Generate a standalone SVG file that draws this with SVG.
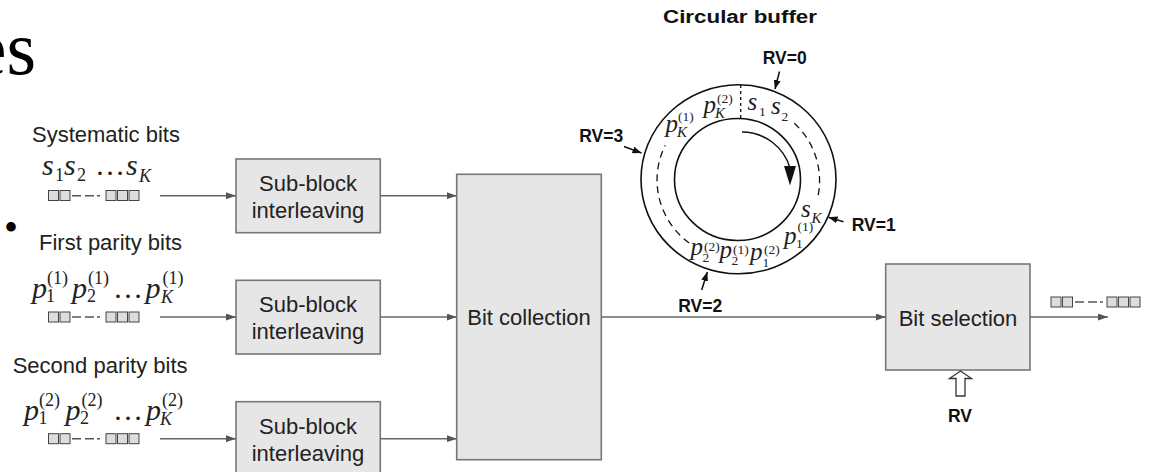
<svg xmlns="http://www.w3.org/2000/svg" width="1151" height="472" viewBox="0 0 1151 472">
<defs>
<marker id="ag" markerUnits="userSpaceOnUse" markerWidth="11" markerHeight="7" refX="10" refY="3.5" orient="auto"><path d="M0,0 L10,3.5 L0,7 z" fill="#555"/></marker>
<marker id="ab" markerUnits="userSpaceOnUse" markerWidth="10" markerHeight="7" refX="9" refY="3.5" orient="auto"><path d="M0,0 L9,3.5 L0,7 z" fill="#111"/></marker>
<style>
.box{fill:#e6e6e6;stroke:#777;stroke-width:1.6}
.lbl{font-family:"Liberation Sans",Arial,sans-serif;font-size:22px;fill:#222}
.ctr{text-anchor:middle}
.rv{font-family:"Liberation Sans",Arial,sans-serif;font-size:17.5px;font-weight:bold;fill:#111}
.mt{font-family:"Liberation Serif","Times New Roman",serif;fill:#222}
.m{font-style:italic;font-size:30px}
.d{font-style:normal;font-size:30px}
.s{font-style:normal;font-size:18px}
.si{font-style:italic;font-size:18px}
.cm{font-style:italic;font-size:25px}
.cs{font-style:normal;font-size:13.5px}
.csi{font-style:italic;font-size:15px}
.sq{fill:#ddd;stroke:#444;stroke-width:1}
.dsh{stroke:#555;stroke-width:1.5;fill:none}
.con{stroke:#666;stroke-width:1.6;fill:none;marker-end:url(#ag)}
.rva{stroke:#111;stroke-width:1.5;fill:none;marker-end:url(#ab)}
</style>
</defs>
<rect width="1151" height="472" fill="#fff"/>

<text x="36" y="74" text-anchor="end" font-family="Liberation Serif,'Times New Roman',serif" font-size="76" fill="#000">es</text>
<text x="4" y="241" font-family="Liberation Serif,'Times New Roman',serif" font-size="40" fill="#000">•</text>

<g id="input-systematic">
<text class="lbl" x="32" y="142">Systematic bits</text>
<text class="mt"><tspan class="m" x="42" y="175">s</tspan><tspan class="s" x="55" y="181">1</tspan><tspan class="m" x="64" y="175">s</tspan><tspan class="s" x="77" y="181">2</tspan><tspan class="d" x="95" y="175">…</tspan><tspan class="m" x="126" y="175">s</tspan><tspan class="si" x="139" y="182">K</tspan></text>
<g><rect class="sq" x="48.5" y="190.5" width="10" height="10"/><rect class="sq" x="60" y="190.5" width="10" height="10"/>
<path class="dsh" d="M72,195.7 h9 M85,195.7 h9 M97,195.7 h3"/>
<rect class="sq" x="106" y="190.5" width="10" height="10"/><rect class="sq" x="117.5" y="190.5" width="10" height="10"/><rect class="sq" x="129" y="190.5" width="10" height="10"/></g>
</g>

<g id="input-parity1">
<text class="lbl" x="39" y="250">First parity bits</text>
<text class="mt"><tspan class="m" x="32" y="298">p</tspan><tspan class="s" x="46" y="302">1</tspan><tspan class="s" x="47" y="284">(1)</tspan><tspan class="m" x="72" y="298">p</tspan><tspan class="s" x="87" y="302">2</tspan><tspan class="s" x="88" y="284">(1)</tspan><tspan class="d" x="113" y="298">…</tspan><tspan class="m" x="145.5" y="298">p</tspan><tspan class="si" x="161" y="303">K</tspan><tspan class="s" x="162.5" y="284">(1)</tspan></text>
<g><rect class="sq" x="48.5" y="312" width="10" height="10"/><rect class="sq" x="60" y="312" width="10" height="10"/>
<path class="dsh" d="M72,317 h9 M85,317 h9 M97,317 h3"/>
<rect class="sq" x="106" y="312" width="10" height="10"/><rect class="sq" x="117.5" y="312" width="10" height="10"/><rect class="sq" x="129" y="312" width="10" height="10"/></g>
</g>

<g id="input-parity2">
<text class="lbl" x="12.7" y="373">Second parity bits</text>
<text class="mt"><tspan class="m" x="24" y="420">p</tspan><tspan class="s" x="38.5" y="424">1</tspan><tspan class="s" x="39" y="406">(2)</tspan><tspan class="m" x="65.5" y="420">p</tspan><tspan class="s" x="80" y="424">2</tspan><tspan class="s" x="81.5" y="406">(2)</tspan><tspan class="d" x="113" y="420">…</tspan><tspan class="m" x="146" y="420">p</tspan><tspan class="si" x="160" y="425">K</tspan><tspan class="s" x="162" y="406">(2)</tspan></text>
<g><rect class="sq" x="48.5" y="433.7" width="10" height="10"/><rect class="sq" x="60" y="433.7" width="10" height="10"/>
<path class="dsh" d="M72,438.7 h9 M85,438.7 h9 M97,438.7 h3"/>
<rect class="sq" x="106" y="433.7" width="10" height="10"/><rect class="sq" x="117.5" y="433.7" width="10" height="10"/><rect class="sq" x="129" y="433.7" width="10" height="10"/></g>
</g>

<g id="sbi1"><rect class="box" x="236" y="159" width="144.3" height="73.7"/>
<text class="lbl ctr" x="308" y="190.7">Sub-block</text><text class="lbl ctr" x="308" y="217.7">interleaving</text></g>
<g id="sbi2"><rect class="box" x="236" y="280.3" width="144.3" height="73.7"/>
<text class="lbl ctr" x="308" y="312.3">Sub-block</text><text class="lbl ctr" x="308" y="339.3">interleaving</text></g>
<g id="sbi3"><rect class="box" x="236" y="401.7" width="144.3" height="76"/>
<text class="lbl ctr" x="308" y="433.7">Sub-block</text><text class="lbl ctr" x="308" y="460.7">interleaving</text></g>

<g id="bit-collection"><rect class="box" x="456.7" y="174.3" width="144.6" height="285.4"/>
<text class="lbl ctr" x="529" y="325">Bit collection</text></g>

<g id="bit-selection"><rect class="box" x="885.7" y="264" width="144.3" height="106"/>
<text class="lbl ctr" x="958" y="325.7">Bit selection</text></g>

<g id="output">
<rect class="sq" x="1051" y="297" width="10" height="10"/><rect class="sq" x="1062.5" y="297" width="10" height="10"/>
<path class="dsh" d="M1075,302 h9 M1088,302 h9 M1100,302 h3"/>
<rect class="sq" x="1107" y="297" width="10" height="10"/><rect class="sq" x="1118.5" y="297" width="10" height="10"/><rect class="sq" x="1130" y="297" width="10" height="10"/>
</g>

<g id="rv-input">
<polygon points="960.5,371 949.5,378.5 956,378.5 956,396 965,396 965,378.5 971.5,378.5" fill="#fff" stroke="#333" stroke-width="1.3"/>
<text class="rv ctr" x="960" y="421.7" font-size="21">RV</text>
</g>

<g id="circular-buffer">
<text class="rv ctr" x="740" y="23.3" font-size="20" textLength="154" lengthAdjust="spacingAndGlyphs">Circular buffer</text>
<ellipse cx="738.5" cy="179.3" rx="97.5" ry="94.5" fill="none" stroke="#111" stroke-width="1.6"/>
<ellipse cx="737.5" cy="179.5" rx="63" ry="61" fill="none" stroke="#111" stroke-width="1.6"/>
<path d="M740.7,85 V118" stroke="#111" stroke-width="1.3" stroke-dasharray="3,3" fill="none"/>
<path d="M794.3,123.2 A81,79 0 0 1 818,196" stroke="#111" stroke-width="1.3" stroke-dasharray="7,5" fill="none"/>
<path d="M689.2,243 A81,79 0 0 1 665.2,145.4" stroke="#111" stroke-width="1.3" stroke-dasharray="7,5" fill="none"/>
<path d="M742,132 A50,50 0 0 1 790,168" stroke="#111" stroke-width="1.5" fill="none"/>
<polygon points="790,185.5 784,166 796,166" fill="#111"/>
<text class="mt"><tspan class="cm" x="665.5" y="131.7">p</tspan><tspan class="csi" x="677" y="137">K</tspan><tspan class="cs" x="678" y="121">(1)</tspan></text>
<text class="mt"><tspan class="cm" x="703.5" y="113.3">p</tspan><tspan class="csi" x="715" y="118">K</tspan><tspan class="cs" x="717" y="103">(2)</tspan></text>
<text class="mt"><tspan class="cm" x="747.5" y="110">s</tspan><tspan class="cs" x="759" y="115.5">1</tspan><tspan class="cm" x="771" y="113.5">s</tspan><tspan class="cs" x="781.5" y="120.5">2</tspan></text>
<text class="mt"><tspan class="cm" x="801" y="217.3">s</tspan><tspan class="csi" x="811.5" y="222.5">K</tspan></text>
<text class="mt"><tspan class="cm" x="690.5" y="255">p</tspan><tspan class="cs" x="702.5" y="262">2</tspan><tspan class="cs" x="704" y="251">(2)</tspan><tspan class="cm" x="719.5" y="258">p</tspan><tspan class="cs" x="731.5" y="265">2</tspan><tspan class="cs" x="733" y="253.5">(1)</tspan><tspan class="cm" x="750" y="260">p</tspan><tspan class="cs" x="762.5" y="266.5">1</tspan><tspan class="cs" x="764" y="253.5">(2)</tspan><tspan class="cm" x="784" y="243.5">p</tspan><tspan class="cs" x="796" y="247.5">1</tspan><tspan class="cs" x="797.5" y="231">(1)</tspan></text>
<text class="rv" x="762.7" y="64">RV=0</text>
<text class="rv" x="579.3" y="141.7">RV=3</text>
<text class="rv" x="851.7" y="230.7">RV=1</text>
<text class="rv" x="678.3" y="311.7">RV=2</text>
</g>

<g id="connectors">
<path class="con" d="M160,195.7 H236"/>
<path class="con" d="M160,317 H236"/>
<path class="con" d="M160,438.7 H236"/>
<path class="con" d="M380.3,195.7 H456.7"/>
<path class="con" d="M380.3,317 H456.7"/>
<path class="con" d="M380.3,438.7 H456.7"/>
<path class="con" d="M601.3,317 H885.7"/>
<path class="con" d="M1030,317 H1108"/>
<path class="rva" d="M779.5,71.5 L775,89"/>
<path class="rva" d="M624,146.5 L641.5,153"/>
<path class="rva" d="M843.5,221.7 L828.5,217.3"/>
<path class="rva" d="M701.7,290 L707.3,272"/>
</g>
</svg>
